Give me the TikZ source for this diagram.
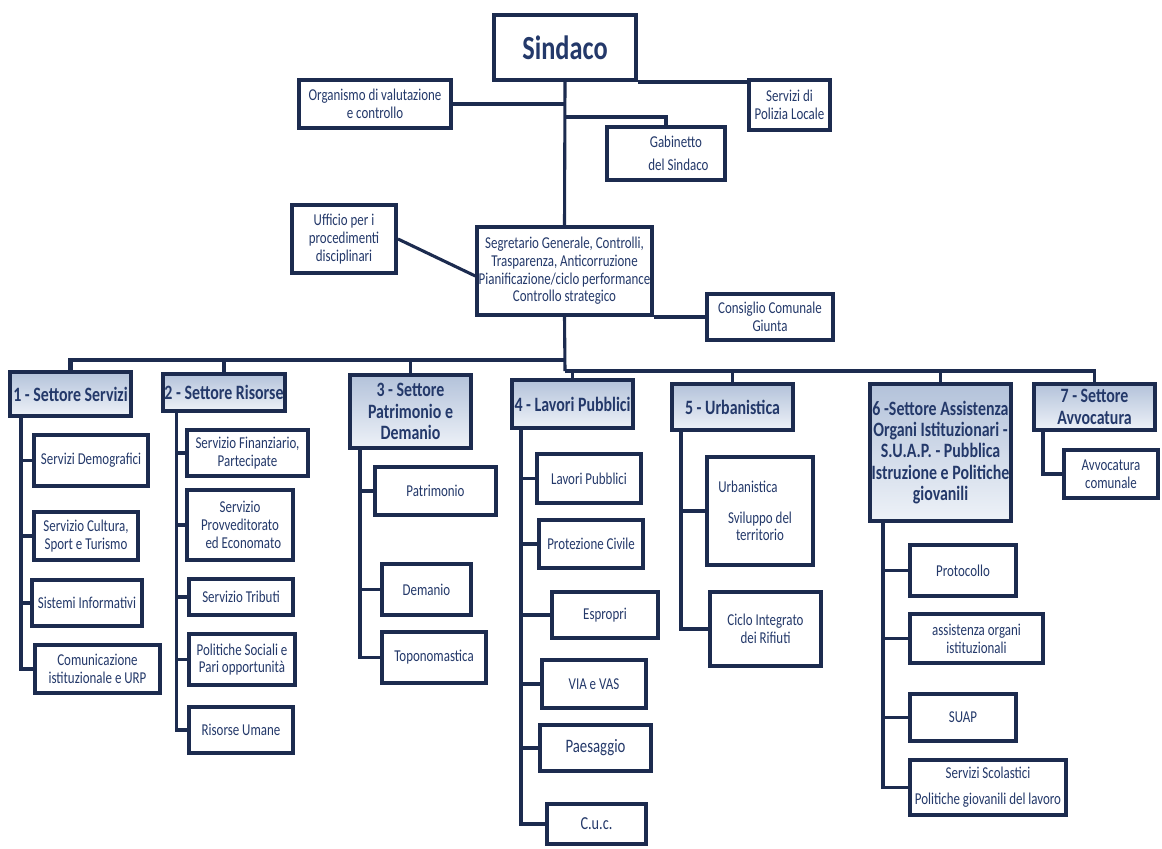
\documentclass[tikz,border=0pt]{standalone}
\usepackage{fontspec}
\setmainfont{Carlito}[FakeStretch=0.78]
\newfontfamily\headfont{Carlito}[FakeStretch=0.78]
\usetikzlibrary{backgrounds,shadows}
\definecolor{Navy}{HTML}{1C2B4F}
\definecolor{InkBlue}{HTML}{24396A}
\definecolor{HeadTop}{HTML}{B3C2DA}
\definecolor{HeadBot}{HTML}{EEF2F8}
\tikzset{
  unit/.style={
    draw=Navy, line width=2.8pt, fill=white, text=InkBlue, align=center,
    inner sep=1pt, font=\fontsize{11.8}{12.6}\selectfont,
    drop shadow={shadow xshift=1.2pt, shadow yshift=-1.2pt, opacity=0.25}
  },
  sector/.style={
    unit, top color=HeadTop, bottom color=HeadBot,
    font=\headfont\bfseries\fontsize{14.5}{15.2}\selectfont
  },
  link/.style={draw=Navy, line width=2.2pt},
  bus/.style={link, line width=3.4pt}
}

\begin{document}
\begin{tikzpicture}[x=0.025cm, y=-0.025cm]
  \useasboundingbox (0,0) rectangle (1162,848);

  % vertice
  \node[unit, font=\headfont\bfseries\fontsize{24}{26}\selectfont,
    minimum width=3.55cm, minimum height=1.625cm] (sind) at (565,47.5) {Sindaco};
  \node[unit, minimum width=3.8cm, minimum height=1.2cm] (org) at (375,104)
    {Organismo di valutazione\\e controllo};
  \node[unit, minimum width=2.025cm, minimum height=1.25cm] (pol) at (789.5,105)
    {Servizi di\\Polizia Locale};
  \node[unit, minimum width=2.95cm, minimum height=1.325cm] (gab) at (666,153.5)
    {\hspace*{1.2em}Gabinetto\\[4pt]\hspace*{1.5em}del Sindaco};
  \node[unit, minimum width=2.6cm, minimum height=1.7cm] (uff) at (344,239)
    {Ufficio per i\\procedimenti\\disciplinari};
  \node[unit, minimum width=4.275cm, minimum height=2.2cm] (seg) at (564.5,271)
    {Segretario Generale, Controlli,\\Trasparenza, Anticorruzione\\
     Pianificazione/ciclo performance\\Controllo strategico};
  \node[unit, minimum width=3.15cm, minimum height=1.15cm] (cons) at (770,317)
    {Consiglio Comunale\\Giunta};

  % settori
  \node[sector, minimum width=3.025cm, minimum height=1.1cm] (s1) at (70.5,394)
    {1 - Settore Servizi};
  \node[sector, minimum width=2.95cm, minimum height=0.925cm] (s2) at (224,392.5)
    {2 - Settore Risorse};
  \node[sector, minimum width=3.025cm, minimum height=1.825cm] (s3) at (410.5,411.5)
    {3 - Settore\\Patrimonio e\\Demanio};
  \node[sector, minimum width=3.025cm, minimum height=1.2cm] (s4) at (572.5,404)
    {4 - Lavori Pubblici};
  \node[sector, minimum width=3.025cm, minimum height=1.15cm] (s5) at (732.5,407)
    {5 - Urbanistica};
  \node[sector, minimum width=3.525cm, minimum height=3.425cm] (s6) at (940.5,452.5)
    {6 -Settore Assistenza\\Organi Istituzionari -\\S.U.A.P. - Pubblica\\
     Istruzione e Politiche\\giovanili};
  \node[sector, minimum width=3.025cm, minimum height=1.15cm] (s7) at (1094.5,407)
    {7 - Settore\\Avvocatura};

  % servizi
  \node[unit, minimum width=2.85cm, minimum height=1.275cm] (dem) at (91,460.5)
    {Servizi Demografici};
  \node[unit, minimum width=2.6cm, minimum height=1.2cm] (cult) at (86,536)
    {Servizio Cultura,\\Sport e Turismo};
  \node[unit, minimum width=2.75cm, minimum height=1.15cm] (sist) at (87,603)
    {Sistemi Informativi};
  \node[unit, minimum width=3.125cm, minimum height=1.2cm] (comu) at (97.5,669)
    {Comunicazione\\istituzionale e URP};

  \node[unit, minimum width=3.025cm, minimum height=1.15cm] (fin) at (247.5,453)
    {Servizio Finanziario,\\Partecipate};
  \node[unit, minimum width=2.65cm, minimum height=1.75cm] (prov) at (240,525)
    {Servizio\\Provveditorato\\\hspace*{0.4em}ed Economato};
  \node[unit, minimum width=2.6cm, minimum height=0.9cm] (trib) at (241,597)
    {Servizio Tributi};
  \node[unit, minimum width=2.65cm, minimum height=1.275cm] (pari) at (242,659.5)
    {Politiche Sociali e\\Pari opportunità};
  \node[unit, minimum width=2.6cm, minimum height=1.15cm] (risu) at (241,730)
    {Risorse Umane};

  \node[unit, minimum width=3.025cm, minimum height=1.2cm] (patr) at (435.5,491)
    {Patrimonio};
  \node[unit, minimum width=2.225cm, minimum height=1.275cm] (dema) at (426.5,589.5)
    {Demanio};
  \node[unit, minimum width=2.6cm, minimum height=1.275cm] (topo) at (434,657.5)
    {Toponomastica};

  \node[unit, minimum width=2.6cm, minimum height=1.225cm] (lavp) at (589,478.5)
    {Lavori Pubblici};
  \node[unit, minimum width=2.6cm, minimum height=1.2cm] (prot) at (591,544)
    {Protezione Civile};
  \node[unit, minimum width=2.65cm, minimum height=1.15cm] (espr) at (605,615)
    {Espropri};
  \node[unit, minimum width=2.6cm, minimum height=1.2cm] (vas) at (594,684)
    {VIA e VAS};
  \node[unit, font=\fontsize{13.5}{15}\selectfont,
    minimum width=2.775cm, minimum height=1.15cm] (paes) at (595.5,748) {Paesaggio};
  \node[unit, font=\fontsize{13}{15}\selectfont,
    minimum width=2.475cm, minimum height=1.0cm] (cuc) at (596.5,824) {C.u.c.};

  \node[unit, minimum width=2.65cm, minimum height=2.7cm] (urb) at (760,511)
    {Urbanistica\hspace*{17pt}\\[9pt]Sviluppo del\\territorio};
  \node[unit, minimum width=2.775cm, minimum height=1.85cm] (rif) at (765.5,629)
    {Ciclo Integrato\\dei Rifiuti};

  \node[unit, minimum width=2.65cm, minimum height=1.275cm] (proto) at (963,570.5)
    {Protocollo};
  \node[unit, minimum width=3.325cm, minimum height=1.225cm] (ass) at (976.5,638.5)
    {assistenza organi\\istituzionali};
  \node[unit, minimum width=2.65cm, minimum height=1.175cm] (suap) at (963,717.5)
    {SUAP};
  \node[unit, minimum width=3.9cm, minimum height=1.375cm] (scol) at (988,787.5)
    {Servizi Scolastici\\[6pt]Politiche giovanili del lavoro};

  \node[unit, minimum width=2.35cm, minimum height=1.2cm] (avv) at (1111,474)
    {Avvocatura\\comunale};

  \begin{scope}[on background layer]
    \fill[white] (0,0) rectangle (1162,848);
    \coordinate (gabj) at (565,117);
    \coordinate (busL) at (565,360);
    \coordinate (busR) at (565,371);
    \draw[link] (sind.south) -- (seg.north);
    \draw[link] (org.east) -- (org.east -| sind.south);
    \draw[link] (sind.south east) -- (sind.south east -| pol.west);
    \draw[link] (gabj) -| (gab.north);
    \draw[link] (uff.east) -- ([yshift=-0.125cm]seg.west);
    \draw[link] (cons.west) -- (cons.west -| seg.east);
    \draw[link] (seg.south) -- (busR);
    \draw[bus] (busL) -| (s1.north);
    \draw[link] (busL -| s2.north) -- (s2.north);
    \draw[link] (busL -| s3.north) -- (s3.north);
    \draw[link] (busR) -| (s7.north);
    \foreach \s in {s4,s5,s6}
      \draw[link] (busR -| \s.north) -- (\s.north);
    % rami dei settori
    \foreach \c in {dem,cult,sist,comu}
      \draw[link] ([xshift=0.325cm]s1.south west) |- (\c.west);
    \foreach \c in {fin,prov,trib,pari,risu}
      \draw[link] ([xshift=0.375cm]s2.south west) |- (\c.west);
    \foreach \c in {patr,dema,topo}
      \draw[link] ([xshift=0.3cm]s3.south west) |- (\c.west);
    \foreach \c in {lavp,prot,espr,vas,paes,cuc}
      \draw[link] ([xshift=0.275cm]s4.south west) |- (\c.west);
    \foreach \c in {urb,rif}
      \draw[link] ([xshift=0.275cm]s5.south west) |- (\c.west);
    \foreach \c in {proto,ass,suap,scol}
      \draw[link] ([xshift=0.375cm]s6.south west) |- (\c.west);
    \draw[link] ([xshift=0.275cm]s7.south west) |- (avv.west);
  \end{scope}
\end{tikzpicture}
\end{document}
